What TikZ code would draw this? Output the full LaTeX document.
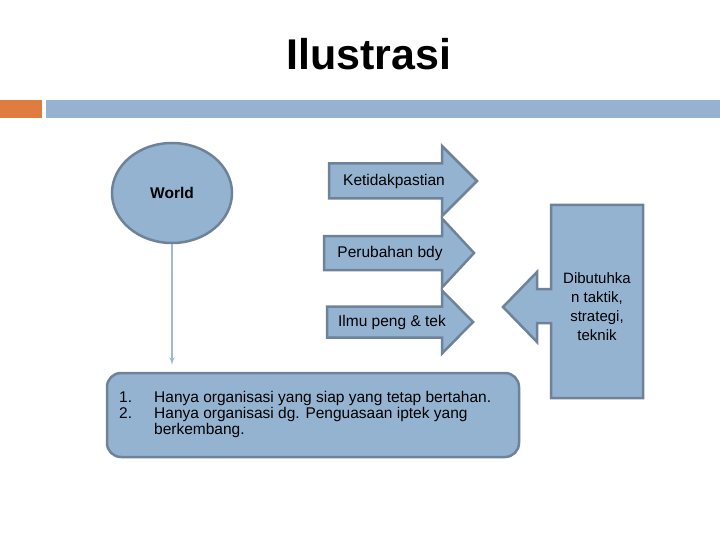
\documentclass[tikz,border=0pt]{standalone}
\usepackage{fontspec}
\setmainfont{Liberation Sans}
\usepackage{tikz}
\usetikzlibrary{arrows,calc,positioning,shapes.geometric}
\definecolor{boxfill}{RGB}{148,179,209}
\definecolor{boxline}{RGB}{110,131,153}
\definecolor{barorange}{RGB}{224,124,64}
\definecolor{barblue}{RGB}{149,179,208}
\definecolor{linkblue}{RGB}{160,184,208}
\tikzset{every picture/.style={
  >=latex'                      % LaTeX style arrows.
  }
}

\begin{document}
\begin{tikzpicture}[
    x=1pt,y=-1pt,
    shp/.style={
      draw=boxline,
      fill=boxfill,
      line width=2.5pt,
      line join=miter
    },
    lbl/.style={
      font=\fontsize{15.5}{18}\selectfont,
      inner sep=0pt
    },
    txt/.style={
      font=\fontsize{15.5}{16}\selectfont,
      align=left,
      inner sep=0pt
    }]

    \useasboundingbox (0,0) rectangle (720,540);

    % Helper macro: right arrow with left x, centre y, shaft and head half sizes, tip x.
    \def\rarr#1#2#3#4#5{
        \draw[shp] (#1,#2-#3) -- (442,#2-#3) -- (442,#2-#4) -- (#5,#2)
          -- (442,#2+#4) -- (442,#2+#3) -- (#1,#2+#3) -- cycle;
        }

    % Draw the title and the header bar.
    \node[font=\fontsize{43}{50}\selectfont\bfseries,anchor=base] (title)
      at (369,70) {Ilustrasi};
    \fill[barorange] (0,100) rectangle (42,118);
    \fill[barblue] (46,100) rectangle (720,118);

    % Draw the world and the list of consequences.
    \node[shp,ellipse,minimum width=120pt,minimum height=100pt,
      inner sep=0pt,font=\fontsize{15.5}{18}\selectfont\bfseries] (world)
      at (172,193) {World};
    \node[shp,rounded corners=14pt,minimum width=412pt,minimum height=84pt]
      (listbox) at (313,415) {};
    \node[txt,anchor=north west] (items) at (119,391)
      {\makebox[35pt][l]{1.}Hanya organisasi yang siap yang tetap bertahan.\\
       \makebox[35pt][l]{2.}Hanya organisasi dg. Penguasaan iptek yang\\
       \hspace*{35pt}berkembang.};
    \draw[->,draw=linkblue,line width=1.5pt,shorten >=7pt]
      (world.south) -- (listbox.north -| world.south);

    % Draw the three forces.
    \rarr{329}{181}{17.5}{35}{477};
    \rarr{324}{253}{17}{34.5}{474};
    \rarr{327}{322}{15.5}{31.5}{473};
    \node[lbl] (uncert) at (394,181) {Ketidakpastian};
    \node[lbl] (change) at (390,253) {Perubahan bdy};
    \node[lbl] (scitech) at (392,322) {Ilmu peng \& tek};

    % Draw the needs box pointing back to the forces.
    \draw[shp] (551,205) -- (643,205) -- (643,398) -- (551,398) -- (551,323)
      -- (537,323) -- (537,342) -- (503,307) -- (537,272) -- (537,289)
      -- (551,289) -- cycle;
    \node[txt,align=center,font=\fontsize{15}{19}\selectfont] (need)
      at (597,307) {Dibutuhka\\n taktik,\\strategi,\\teknik};
  \end{tikzpicture}
\end{document}
